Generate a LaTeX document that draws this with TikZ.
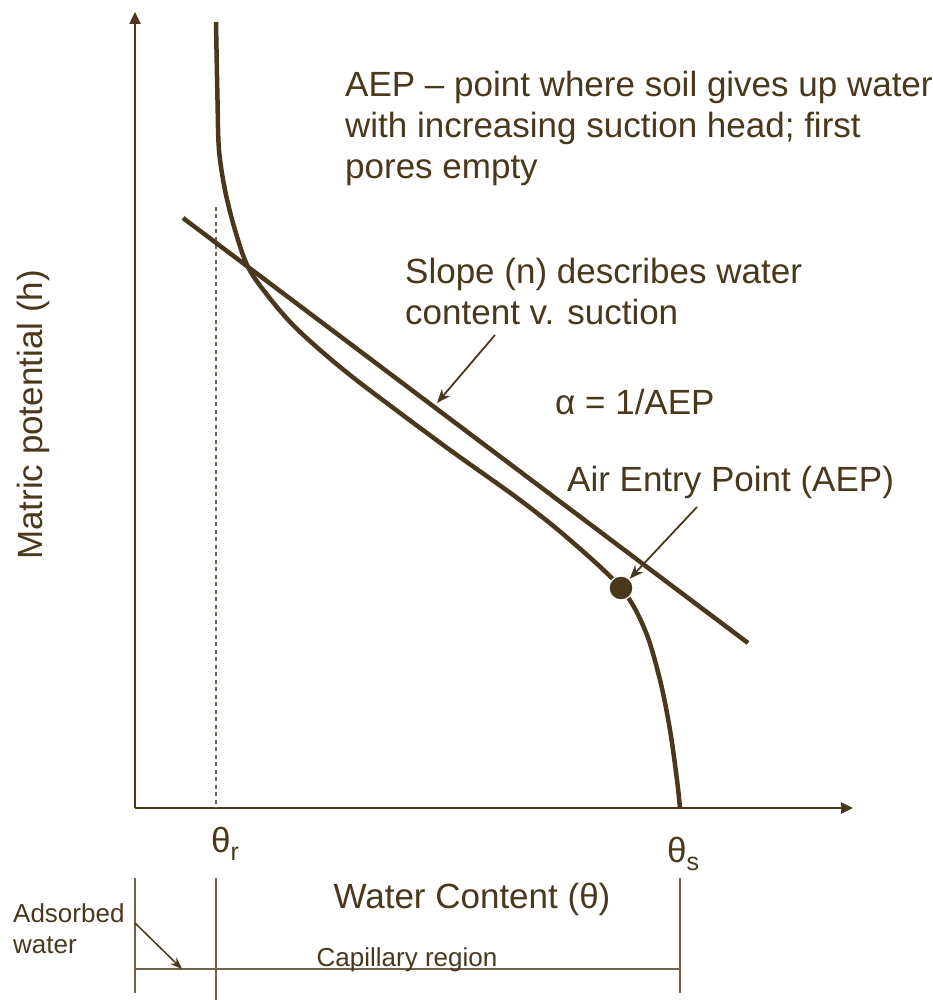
\documentclass[tikz,border=0pt]{standalone}
\usepackage{fontspec}
\setmainfont{Liberation Sans}
\usetikzlibrary{arrows.meta}
\definecolor{soilbrown}{RGB}{74,56,28}
\definecolor{soilgrey}{RGB}{112,97,76}

\begin{document}
\begin{tikzpicture}[x=1pt,y=-1pt,color=soilbrown,
    every node/.style={inner sep=0pt,text=soilbrown},
    big/.style={font=\fontsize{35}{41}\selectfont},
    small/.style={font=\fontsize{26}{31}\selectfont},
    axis/.style={line width=2.4pt,-{Triangle[length=12pt,width=11pt]}},
    pointer/.style={line width=1.8pt,-{Stealth[length=14pt,width=11pt]}},
    curve/.style={line width=4.5pt},
    guide/.style={line width=1.5pt,soilgrey}]
  \useasboundingbox (0,0) rectangle (933,1000);

  % axes
  \coordinate (origin) at (135,808);
  \coordinate (ytop) at (135,12);
  \coordinate (xend) at (853,808);
  \draw[axis] (origin) -- (ytop);
  \draw[axis] (origin) -- (xend);

  % residual water content
  \coordinate (rtop) at (216,207);
  \coordinate (rbot) at (216,808);
  \draw[guide,dash pattern=on 4pt off 3.5pt] (rtop) -- (rbot);

  % retention curve and slope line
  \draw[curve] plot[smooth,tension=0.55] coordinates {(216,22) (217.5,100) (219,150) (225,190) (235,230)
    (248,267) (268,296) (292,324) (320,350) (350,375) (380,398) (450,450) (520,500) (570,540) (621,588)
    (645,630) (660,680) (670,730) (677,780) (680,808)};
  \coordinate (slopeA) at (183,218);
  \coordinate (slopeB) at (748,643);
  \draw[curve] (slopeA) -- (slopeB);
  \node[circle,fill=soilbrown,draw=white,line width=1.2pt,minimum size=24pt] (aep) at (621,588) {};

  % labels (base of a multi-line node = its last line)
  \node[big,anchor=base west,align=left] (aepnote) at (345,179)
    {AEP – point where soil gives up water\\with increasing suction head; first\\pores empty};
  \node[big,anchor=base west,align=left] (slopenote) at (405,324)
    {Slope (n) describes water\\content v. suction};
  \node[big,anchor=base west] (alpha) at (555,414) {α = 1/AEP};
  \node[big,anchor=base west] (aeplabel) at (567,491) {Air Entry Point (AEP)};
  \node[big,rotate=90] (ylabel) at (33,415) {Matric potential (h)};
  \node[big,anchor=base] (xlabel) at (472,908) {Water Content (θ)};
  \node[big,anchor=base west] (thetar) at (211,852) {θ\raisebox{-8pt}{\fontsize{25}{25}\selectfont r}};
  \node[big,anchor=base west] (thetas) at (667,862) {θ\raisebox{-8pt}{\fontsize{25}{25}\selectfont s}};

  % pointers
  \coordinate (slopetail) at (495,335);
  \coordinate (slopetip) at (437,403);
  \draw[pointer] (slopetail) -- (slopetip);
  \coordinate (aeptail) at (697,507);
  \draw[pointer] (aeptail) -- (aep);

  % regions below the axis
  \coordinate (b0top) at (135,878);
  \coordinate (b0bot) at (135,993);
  \coordinate (b1top) at (216,878);
  \coordinate (b1bot) at (216,1000);
  \coordinate (b2top) at (680,878);
  \coordinate (b2bot) at (680,993);
  \coordinate (bl) at (135,969);
  \coordinate (br) at (680,969);
  \draw[guide] (b0top) -- (b0bot);
  \draw[guide] (b1top) -- (b1bot);
  \draw[guide] (b2top) -- (b2bot);
  \draw[guide] (bl) -- (br);
  \node[small,anchor=base west,align=left] (adsorbed) at (13,953) {Adsorbed\\water};
  \node[small,anchor=base] (capillary) at (407,966) {Capillary region};
  \coordinate (adstail) at (135,923);
  \coordinate (adstip) at (182,969);
  \draw[pointer,line width=1.5pt,-{Stealth[length=12pt,width=9pt]}] (adstail) -- (adstip);
\end{tikzpicture}
\end{document}
